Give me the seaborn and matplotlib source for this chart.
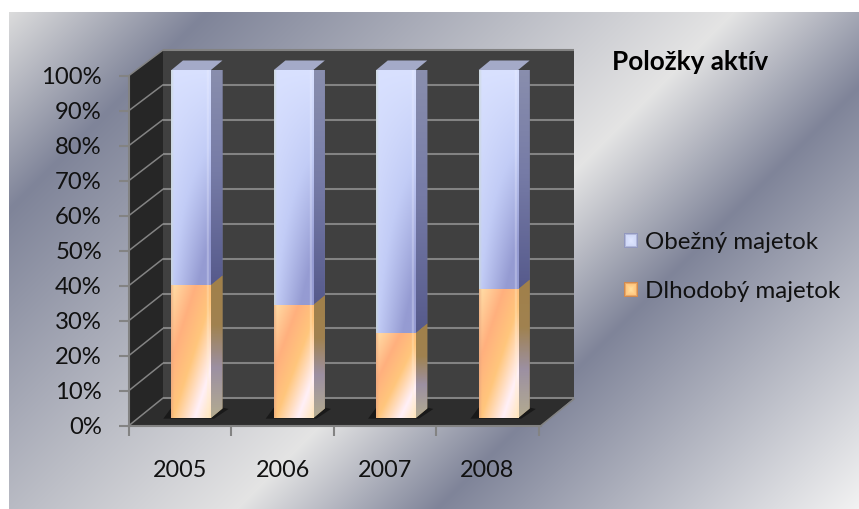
import numpy as np
import pandas as pd
import matplotlib
matplotlib.use("Agg")
import matplotlib.pyplot as plt
from matplotlib.patches import Polygon, Patch
from matplotlib.colors import to_rgb
import seaborn as sns

years = ["2005", "2006", "2007", "2008"]
dlhodoby = [38.2, 32.5, 24.4, 37.0]
obezny = [61.8, 67.5, 75.6, 63.0]
y_ticks = list(range(0, 101, 10))
y_labels = [f"{v}%" for v in y_ticks]
title_text = "Položky aktív"
name_obezny = "Obežný majetok"
name_dlhodoby = "Dlhodobý majetok"

W, H = 859, 509
FONT = "Lato"
sns.set_theme(style="white")
plt.rcParams["font.family"] = [FONT, "DejaVu Sans"]
TXT = "#111111"


def ramp(s, stops):
    s = np.asarray(s, float)
    pos = [p for p, _ in stops]
    cols = np.array([to_rgb(c) for _, c in stops])
    return np.dstack([np.interp(s, pos, cols[:, i]) for i in range(3)])


def box(x0, y0, x1, y1):
    """axes rectangle from pixel edges (y measured from the top)"""
    return [x0 / W, 1 - y1 / H, (x1 - x0) / W, (y1 - y0) / H]


fig = plt.figure(figsize=(W / 100, H / 100), dpi=100, facecolor="white")

# ---- background and 3D box, in pixel units
bg = fig.add_axes([0, 0, 1, 1], zorder=0)
bg.set_axis_off()
X, Y = np.meshgrid(np.arange(9, W), np.arange(12, H))
bg_stops = [(15, "#dedede"), (218, "#7f8499"), (745, "#e4e4e4"), (945, "#7f8499"), (1365, "#f2f2f2")]
bg.imshow(ramp(X + Y, bg_stops), extent=(9, W, H, 12), aspect="auto", interpolation="bilinear")

fx0, fx1 = 129, 541
fy_top, fy_bot = 75.5, 425.5
dx_wall, dy_wall = 34, -26
wy_top, wy_bot = 50, 398
wx0, wx1 = fx0 + dx_wall, fx1 + dx_wall - 1

bg.add_patch(Polygon([(wx0, wy_top), (wx1, wy_top), (wx1, wy_bot), (wx0, wy_bot)], fc="#404040", ec="none"))
bg.add_patch(Polygon([(fx0, fy_top), (wx0, wy_top), (wx0, wy_bot), (fx0, fy_bot)], fc="#262626", ec="none"))
bg.add_patch(Polygon([(fx0, fy_bot), (wx0, wy_bot), (wx1, wy_bot), (fx1, fy_bot)], fc="#2d2d2d", ec="none"))
GRID = "#838383"
for t in y_ticks:
    yw = wy_bot + (wy_top - wy_bot) * t / 100
    yf = fy_bot + (fy_top - fy_bot) * t / 100
    bg.plot([wx0, wx1], [yw, yw], color=GRID, lw=1.5, solid_capstyle="butt")
    bg.plot([fx0, wx0], [yf, yw], color=GRID, lw=1.1)
bg.plot([fx1, wx1], [fy_bot, wy_bot + 1], color=GRID, lw=1.1)
bg.set_xlim(0, W)
bg.set_ylim(H, 0)

# ---- front plane: axis, ticks, tick labels
front = fig.add_axes(box(129, fy_top, 129 + 409.5, fy_bot), zorder=1)
front.patch.set_alpha(0)
front.set_xlim(-0.5, 3.5)
front.set_ylim(0, 100)
for s in ["top", "right"]:
    front.spines[s].set_visible(False)
front.spines["left"].set_color(GRID)
front.spines["bottom"].set_color(GRID)
front.spines["left"].set_linewidth(1.5)
front.spines["bottom"].set_linewidth(1.5)
front.spines["bottom"].set_bounds(-0.5, 3.52)
front.set_yticks(y_ticks)
front.set_yticklabels(y_labels, fontsize=17.2, color=TXT)
front.tick_params(axis="y", left=True, length=7.5, width=1.5, color=GRID, pad=12)
front.set_xticks(range(len(years)))
front.set_xticklabels(years, fontsize=16.8, color=TXT)
front.tick_params(axis="x", which="major", bottom=False, pad=18.5)
front.set_xticks(np.arange(-0.5, 3.6, 1), minor=True)
front.tick_params(axis="x", which="minor", bottom=True, length=7.5, width=1.5, color=GRID)

# ---- bars
ax = fig.add_axes(box(140, 70, 549.6, 418), zorder=2)
ax.patch.set_alpha(0)
df = pd.DataFrame({"rok": years, "dlhodoby": dlhodoby, "obezny": obezny})
sns.barplot(data=df, x="rok", y="obezny", bottom=df["dlhodoby"].to_numpy(), width=0.386,
            color="#bcc6f0", saturation=1, ax=ax, zorder=3, linewidth=0)
n_first = len(ax.patches)
sns.barplot(data=df, x="rok", y="dlhodoby", width=0.386,
            color="#ffc080", saturation=1, ax=ax, zorder=3, linewidth=0)
blue_bars = ax.patches[:n_first]
orange_bars = ax.patches[n_first:]
ax.set_xlim(-0.5, 3.5)
ax.set_ylim(0, 100)
ax.set_axis_off()

DX = 11.5 / 102.4      # depth of a bar, category units
DY = 9.5 / 3.48        # depth of a bar, percent units

nx, ny = 60, 160
u, v = np.meshgrid(np.linspace(0, 1, nx), np.linspace(0, 1, ny))


def edges(img, u, v, left, right):
    a = np.clip((0.07 - u) / 0.07, 0, 1)[..., None] * 0.65
    b = np.clip(1 - np.abs(u - 0.93) / 0.035, 0, 1)[..., None] * 0.45
    img = img * (1 - a) + np.array(to_rgb(left)) * a
    img = img * (1 - b) + np.array(to_rgb(right)) * b
    return img


def paint(img, bar, x0, x1, y0, y1, z):
    im = ax.imshow(img, extent=(x0, x1, y0, y1), aspect="auto", zorder=z, interpolation="bilinear")
    im.set_clip_path(bar)
    return im


for b_blue, b_or in zip(blue_bars, orange_bars):
    x0 = b_blue.get_x()
    x1 = x0 + b_blue.get_width()
    split = b_or.get_height()
    top = split + b_blue.get_height()

    # shadow on the floor
    ax.add_patch(Polygon([(x0 - 0.08, -0.2), (x1 + 0.03, -0.2), (x1 + DX + 0.06, 2.6),
                          (x1 + DX, 3.0), (x0, 3.0)], closed=True, fc="#191919", ec="none",
                         zorder=1, clip_on=False))

    # front faces
    s = np.clip(0.42 * v + 0.85 * u * v, 0, 1)
    paint(edges(ramp(s, [(0, "#d9e1ff"), (0.45, "#c2ccf6"), (1, "#959bd2")]), u, v, "#c9d6cf", "#eef0ff"),
          b_blue, x0, x1, split, top, 4)
    s = 0.55 * u + 0.6 * v
    paint(edges(ramp(s, [(0, "#ffdfa8"), (0.34, "#ffb07e"), (0.62, "#ffc67c"), (0.93, "#fff0f8"), (1.15, "#ffe4b8")]),
                u, v, "#e6a67e", "#fff0d0"), b_or, x0, x1, 0, split, 4)

    # right side faces
    g = np.linspace(0, 1, ny)[:, None]
    side_blue = Polygon([(x1, split), (x1 + DX, split + DY), (x1 + DX, top + DY), (x1, top)],
                        fc="#7a7fa6", ec="none", zorder=2)
    ax.add_patch(side_blue)
    paint(ramp(g, [(0, "#8b90ae"), (0.5, "#767ba6"), (1, "#565a8c")]), side_blue, x1, x1 + DX, split, top + DY, 2.5)
    side_or = Polygon([(x1, 0), (x1 + DX, DY), (x1 + DX, split + DY), (x1, split)],
                      fc="#9c8458", ec="none", zorder=2)
    ax.add_patch(side_or)
    paint(ramp(g, [(0, "#a1804a"), (0.35, "#a08250"), (0.65, "#9c90a2"), (1, "#b3ab90")]),
          side_or, x1, x1 + DX, 0, split + DY, 2.5)

    # top face
    top_face = Polygon([(x0, top), (x1, top), (x1 + DX, top + DY), (x0 + DX, top + DY)],
                       fc="#a4aac8", ec="none", zorder=2, clip_on=False)
    ax.add_patch(top_face)
    gt = np.linspace(0, 1, 40)[None, :]
    paint(ramp(gt, [(0, "#8fa39c"), (0.3, "#a4aac6"), (1, "#b4bad6")]), top_face,
          x0, x1 + DX, top, top + DY, 2.5).set_clip_on(True)

# ---- title and legend
fig.text(612 / W, 1 - 62 / H, title_text, fontsize=18.8, fontweight="bold", color="#000000",
         ha="left", va="center")
leg = fig.legend(handles=[Patch(fc="#bcc6f0", ec="none", label=name_obezny),
                          Patch(fc="#f0a860", ec="none", label=name_dlhodoby)],
                 loc="upper left", bbox_to_anchor=(623.5 / W, 1 - 232 / H), frameon=False,
                 fontsize=17.4, labelcolor=TXT, handlelength=0.54, handleheight=0.54,
                 handletextpad=0.33, labelspacing=1.17, borderpad=0, borderaxespad=0)
leg.set_zorder(4)

# bevel on the legend keys, laid exactly over the legend's own handles
fig.canvas.draw()
ovl = fig.add_axes([0, 0, 1, 1], zorder=5)
ovl.set_axis_off()
ovl.patch.set_alpha(0)
k = np.linspace(-1, 1, 14)
kx, ky = np.meshgrid(k, k)
key_stops = [
    [(0, "#dfe6ff"), (0.7, "#d2daf8"), (1, "#9298be")],
    [(0, "#ffe0a0"), (0.7, "#ffc880"), (1, "#d08a50")],
]
for handle, stops in zip(leg.get_patches(), key_stops):
    e = handle.get_window_extent()
    ovl.imshow(ramp(np.maximum(np.abs(kx), np.abs(ky)), stops),
               extent=(e.x0, e.x1, H - e.y0, H - e.y1), aspect="auto", interpolation="nearest")
ovl.set_xlim(0, W)
ovl.set_ylim(H, 0)

fig.savefig("out.png", dpi=100)
